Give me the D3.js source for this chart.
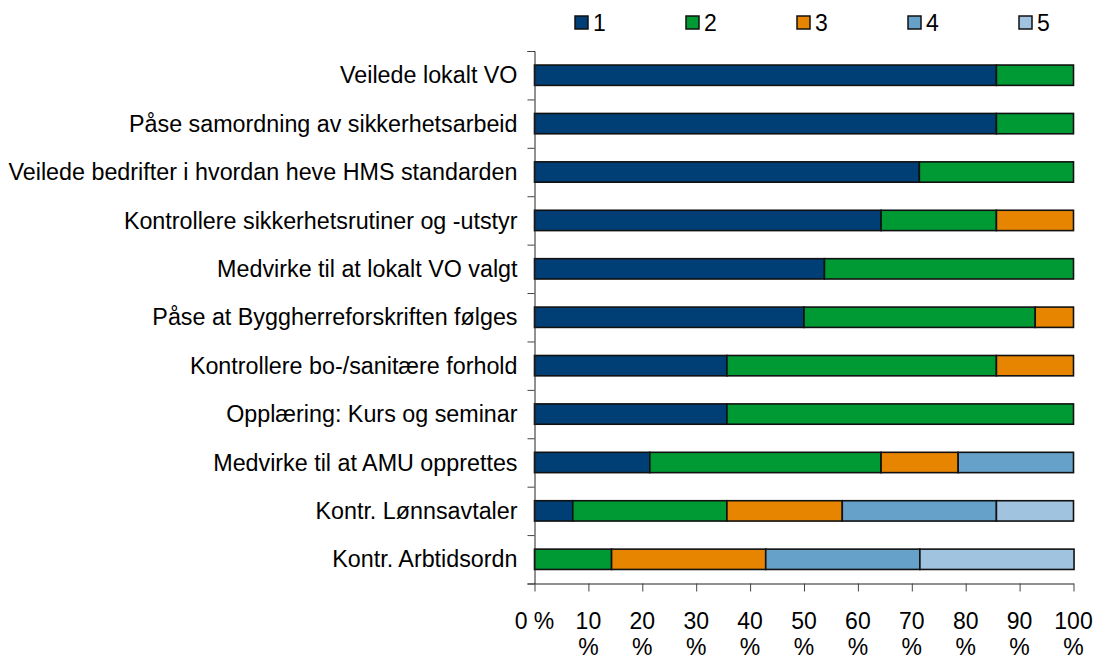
<!DOCTYPE html>
<html>
<head>
<meta charset="utf-8">
<script src="https://cdn.jsdelivr.net/npm/d3@7"></script>
<style>
  body { margin: 0; background: #fff; }
  svg { display: block; font-family: "Liberation Sans", Arial, sans-serif; }
</style>
</head>
<body>
<div id="chart"></div>
<script>
// categories, top to bottom
var categories = [
  "Veilede lokalt VO",
  "Påse samordning av sikkerhetsarbeid",
  "Veilede bedrifter i hvordan heve HMS standarden",
  "Kontrollere sikkerhetsrutiner og -utstyr",
  "Medvirke til at lokalt VO valgt",
  "Påse at Byggherreforskriften følges",
  "Kontrollere bo-/sanitære forhold",
  "Opplæring: Kurs og seminar",
  "Medvirke til at AMU opprettes",
  "Kontr. Lønnsavtaler",
  "Kontr. Arbtidsordn"
];

// share (%) per answer 1..5
var s1 = [85.7, 85.7, 71.4, 64.3, 53.8, 50.0, 35.7, 35.7, 21.4, 7.1, 0];
var s2 = [14.3, 14.3, 28.6, 21.4, 46.2, 42.9, 50.0, 64.3, 42.9, 28.6, 14.3];
var s3 = [0, 0, 0, 14.3, 0, 7.1, 14.3, 0, 14.3, 21.4, 28.6];
var s4 = [0, 0, 0, 0, 0, 0, 0, 0, 21.4, 28.6, 28.6];
var s5 = [0, 0, 0, 0, 0, 0, 0, 0, 0, 14.3, 28.6];

var keys = ["1", "2", "3", "4", "5"];
var colors = ["#003f75", "#009a35", "#e88500", "#65a1c9", "#a0c4e0"];
var xTicks = [0, 10, 20, 30, 40, 50, 60, 70, 80, 90, 100];

var width = 1096, height = 657;
var plotL = 534.5, plotR = 1073.5, plotT = 51, plotB = 583.5;

var rows = categories.map((c, i) => ({
  name: c, "1": s1[i], "2": s2[i], "3": s3[i], "4": s4[i], "5": s5[i]
}));

var svg = d3.select("#chart").append("svg")
  .attr("width", width)
  .attr("height", height)
  .attr("font-size", 23);

var x = d3.scaleLinear().domain([0, 100]).range([plotL, plotR]);
var y = d3.scaleBand().domain(categories).range([plotT, plotB]).padding(0);
var color = d3.scaleOrdinal().domain(keys).range(colors);

var barH = y.bandwidth() * 0.42;
var stacked = d3.stack().keys(keys)(rows);

// bars
svg.append("g")
  .selectAll("g")
  .data(stacked)
  .join("g")
    .attr("fill", d => color(d.key))
  .selectAll("rect")
  .data(d => d.filter(v => v[1] - v[0] > 0))
  .join("rect")
    .attr("x", d => x(d[0]))
    .attr("y", d => y(d.data.name) + (y.bandwidth() - barH) / 2)
    .attr("width", d => x(d[1]) - x(d[0]))
    .attr("height", barH)
    .attr("stroke", "#111")
    .attr("stroke-width", 1.6);

// y axis: line and ticks at band edges
var yEdges = d3.scaleLinear().domain([0, categories.length]).range([plotT, plotB]);
var yAxis = svg.append("g")
  .attr("transform", `translate(${plotL},0)`)
  .call(d3.axisLeft(yEdges).ticks(categories.length).tickSizeOuter(0).tickSize(7).tickFormat(""));
yAxis.select(".domain").attr("stroke", "#222");
yAxis.selectAll(".tick line").attr("stroke", "#444");

// category labels
svg.append("g")
  .attr("font-size", 23.3)
  .selectAll("text")
  .data(categories)
  .join("text")
    .attr("x", plotL - 17)
    .attr("y", d => y(d) + y.bandwidth() / 2)
    .attr("dy", "0.35em")
    .attr("text-anchor", "end")
    .attr("fill", "#000")
    .text(d => d);

// x axis
var xAxis = svg.append("g")
  .attr("transform", `translate(0,${plotB})`)
  .call(d3.axisBottom(x).tickValues(xTicks).tickSize(8).tickSizeOuter(0).tickFormat(""));
xAxis.select(".domain").attr("stroke", "#222");
xAxis.selectAll(".tick line").attr("stroke", "#444");

// tick labels, wrapped like the original (number, then % on next line)
svg.append("g")
  .selectAll("text")
  .data(xTicks)
  .join("text")
    .attr("text-anchor", "middle")
    .attr("fill", "#000")
    .each(function(d) {
      var t = d3.select(this);
      var lines = d === 0 ? [d + " %"] : [String(d), "%"];
      lines.forEach((ln, i) => {
        t.append("tspan")
          .attr("x", x(d))
          .attr("y", 629 + i * 26)
          .text(ln);
      });
    });

// legend
var legend = svg.append("g")
  .selectAll("g")
  .data(keys)
  .join("g")
    .attr("transform", (d, i) => `translate(${575 + i * 111},16)`);

legend.append("rect")
  .attr("width", 13)
  .attr("height", 13)
  .attr("fill", d => color(d))
  .attr("stroke", "#111")
  .attr("stroke-width", 1.5);

legend.append("text")
  .attr("x", 18)
  .attr("y", 6.5)
  .attr("dy", "0.35em")
  .text(d => d);
</script>
</body>
</html>
